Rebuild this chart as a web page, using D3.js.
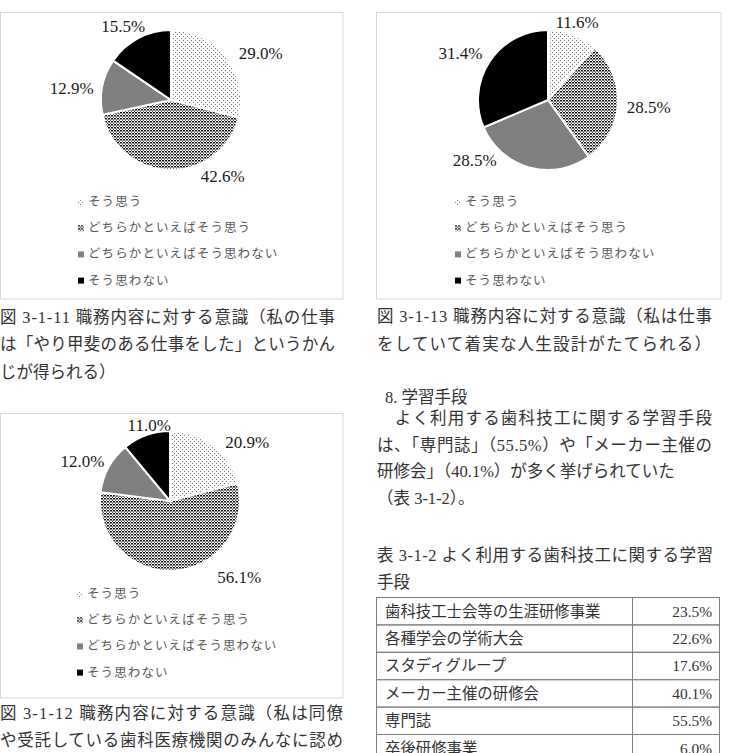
<!DOCTYPE html>
<html>
<head>
<meta charset="utf-8">
<script src="https://cdn.jsdelivr.net/npm/d3@7"></script>
<style>
body{margin:0;background:#fff;}
svg{display:block;font-family:"Liberation Serif","Noto Sans CJK JP",serif;}
</style>
</head>
<body>
<div class="container"></div>
<script>
// answer categories shared by the three pies
var categories = ['そう思う', 'どちらかといえばそう思う', 'どちらかといえばそう思わない', 'そう思わない'];
var values1111 = [29.0, 42.6, 12.9, 15.5];
var values1112 = [20.9, 56.1, 12.0, 11.0];
var values1113 = [11.6, 28.5, 28.5, 31.4];

// table 3-1-2
var tableItems = ['歯科技工士会等の生涯研修事業', '各種学会の学術大会', 'スタディグループ', 'メーカー主催の研修会', '専門誌', '卒後研修事業'];
var tableValues = [23.5, 22.6, 17.6, 40.1, 55.5, 6.0];

const WIDTH = 737;
const HEIGHT = 753;
const RADIUS = 70;

var fills = ['url(#dotLight)', 'url(#dotDense)', '#808080', '#000000'];

// where each % label sits: fraction along its slice, distance from centre
var charts = [
	{values: values1111, box: [0.5, 12.5, 342.5, 286.5], cx: 171, cy: 100, legX: 78, legY: 202,
		labels: [[0.60, 101], [0.27, 92], [0.40, 100], [0.41, 88]]},
	{values: values1113, box: [376.5, 12.5, 344.5, 286.5], cx: 548, cy: 100, legX: 455, legY: 202,
		labels: [[0.49, 83], [0.51, 101], [0.84, 95], [0.45, 99]]},
	{values: values1112, box: [0.5, 413.5, 342.5, 284.5], cx: 170, cy: 501, legX: 77, legY: 594,
		labels: [[0.70, 97], [0.31, 103], [0.39, 96], [0.61, 78]]}
];

var translate = function(x, y){
	return 'translate(' + x + ',' + y + ')';
};

var svg = d3.select('.container').append('svg')
	.attr('width', WIDTH)
	.attr('height', HEIGHT);

svg.append('rect').attr('width', WIDTH).attr('height', HEIGHT).attr('fill', '#fff');

var defs = svg.append('defs');
var p1 = defs.append('pattern').attr('id', 'dotLight')
	.attr('width', 4).attr('height', 4).attr('patternUnits', 'userSpaceOnUse');
p1.append('rect').attr('width', 4).attr('height', 4).attr('fill', '#fff');
p1.append('rect').attr('x', 0).attr('y', 0).attr('width', 1).attr('height', 1).attr('fill', '#7a7a7a');
p1.append('rect').attr('x', 2).attr('y', 2).attr('width', 1).attr('height', 1).attr('fill', '#7a7a7a');

var p2 = defs.append('pattern').attr('id', 'dotDense')
	.attr('width', 3).attr('height', 3).attr('patternUnits', 'userSpaceOnUse');
p2.append('rect').attr('width', 3).attr('height', 3).attr('fill', '#fff');
p2.append('rect').attr('x', 0).attr('y', 0).attr('width', 2).attr('height', 1.5).attr('fill', '#111');
p2.append('rect').attr('x', 2).attr('y', 1.5).attr('width', 1).attr('height', 1.5).attr('fill', '#555');

var pie = d3.pie().sort(null).value(function(d){ return d; });
var arc = d3.arc().innerRadius(0).outerRadius(RADIUS);

var drawPie = function(c){
	svg.append('rect')
		.attr('x', c.box[0]).attr('y', c.box[1])
		.attr('width', c.box[2]).attr('height', c.box[3])
		.attr('fill', 'none').attr('stroke', '#d9d9d9');

	var g = svg.append('g').attr('transform', translate(c.cx, c.cy));
	var slices = pie(c.values);

	g.selectAll('path.slice').data(slices)
		.enter().append('path')
		.attr('class', 'slice')
		.attr('d', arc)
		.attr('fill', function(d, i){ return fills[i]; })
		.attr('stroke', '#fff')
		.attr('stroke-width', 2);

	g.selectAll('text.pct').data(slices)
		.enter().append('text')
		.attr('class', 'pct')
		.attr('transform', function(d, i){
			var l = c.labels[i];
			var a = d.startAngle + l[0] * (d.endAngle - d.startAngle);
			var pos = d3.arc().innerRadius(l[1]).outerRadius(l[1]).startAngle(a).endAngle(a).centroid();
			return translate(pos[0], pos[1]);
		})
		.attr('text-anchor', 'middle')
		.attr('dominant-baseline', 'central')
		.attr('font-size', 17)
		.attr('fill', '#1a1a1a')
		.text(function(d){ return d.data.toFixed(1) + '%'; });

	var leg = svg.append('g').attr('transform', translate(c.legX, c.legY));
	var rows = leg.selectAll('g').data(categories)
		.enter().append('g')
		.attr('transform', function(d, i){ return translate(0, i * 26.2); });
	rows.append('rect')
		.attr('x', 0).attr('y', -3)
		.attr('width', 6).attr('height', 6)
		.attr('fill', function(d, i){ return fills[i]; });
	rows.append('text')
		.attr('x', 10)
		.attr('dominant-baseline', 'central')
		.attr('font-size', 12.5)
		.attr('letter-spacing', 1.1)
		.attr('fill', '#595959')
		.text(function(d){ return d; });
};

charts.forEach(drawPie);

// running text: [text, x, y centre, justified width or 0]
var textLines = [
	['図 3-1-11 職務内容に対する意識（私の仕事', 0, 317, 335],
	['は「やり甲斐のある仕事をした」というかん', 0, 344.5, 335],
	['じが得られる）', 0, 372, 0],
	['図 3-1-12 職務内容に対する意識（私は同僚', 0, 713, 343],
	['や受託している歯科医療機関のみんなに認め', 0, 740, 343],
	['図 3-1-13 職務内容に対する意識（私は仕事', 377, 316, 335],
	['をしていて着実な人生設計がたてられる）', 377, 344, 334],
	['8. 学習手段', 385, 397, 0],
	['　よく利用する歯科技工に関する学習手段', 377, 418, 335],
	['は、「専門誌」（55.5%）や「メーカー主催の', 377, 445, 335],
	['研修会」（40.1%）が多く挙げられていた', 377, 471, 0],
	['（表 3-1-2）。', 377, 498, 0],
	['表 3-1-2 よく利用する歯科技工に関する学習', 377, 555, 336],
	['手段', 377, 582, 0]
];

svg.append('g').selectAll('text').data(textLines)
	.enter().append('text')
	.attr('x', function(d){ return d[1]; })
	.attr('y', function(d){ return d[2]; })
	.attr('dominant-baseline', 'central')
	.attr('font-size', 16.5)
	.attr('fill', '#333')
	.each(function(d){
		if (d[3]) {
			d3.select(this).attr('textLength', d[3]).attr('lengthAdjust', 'spacing');
		}
	})
	.text(function(d){ return d[0]; });

// table
var rowH = 27.4;
var tableTop = 597.5;
var colX = [376.5, 632.5, 719.5];

var yRow = d3.scaleBand()
	.domain(d3.range(tableItems.length))
	.range([tableTop, tableTop + rowH * tableItems.length])
	.padding(0);

var tbl = svg.append('g');
var trs = tbl.selectAll('g').data(tableItems)
	.enter().append('g')
	.attr('transform', function(d, i){ return translate(0, yRow(i)); });

trs.append('rect')
	.attr('x', colX[0]).attr('width', colX[2] - colX[0])
	.attr('height', yRow.bandwidth())
	.attr('fill', 'none').attr('stroke', '#7f7f7f');
trs.append('line')
	.attr('x1', colX[1]).attr('x2', colX[1])
	.attr('y1', 0).attr('y2', yRow.bandwidth())
	.attr('stroke', '#7f7f7f');
trs.append('text')
	.attr('x', colX[0] + 8.5)
	.attr('y', yRow.bandwidth() / 2)
	.attr('dominant-baseline', 'central')
	.attr('font-size', 15.4)
	.attr('fill', '#333')
	.text(function(d){ return d; });
trs.append('text')
	.attr('x', colX[2] - 7.5)
	.attr('y', yRow.bandwidth() / 2)
	.attr('text-anchor', 'end')
	.attr('dominant-baseline', 'central')
	.attr('font-size', 15.4)
	.attr('fill', '#333')
	.text(function(d, i){ return tableValues[i].toFixed(1) + '%'; });
</script>
</body>
</html>
